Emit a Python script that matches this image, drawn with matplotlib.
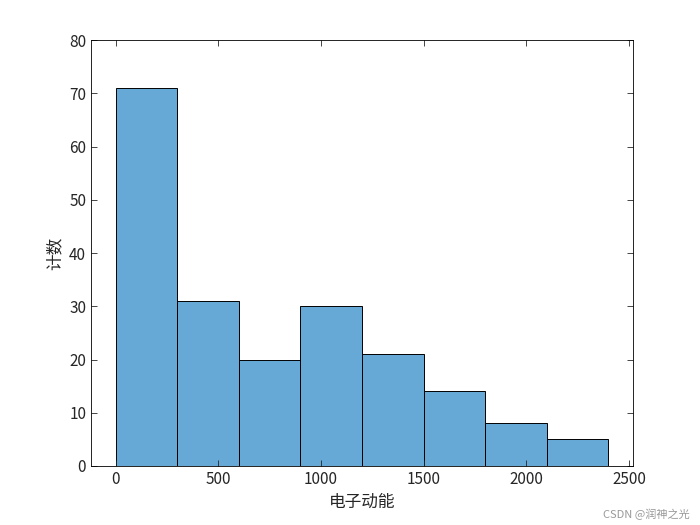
import matplotlib
matplotlib.use("Agg")
import matplotlib.pyplot as plt

plt.rcParams['font.family'] = ['Noto Sans CJK SC', 'DejaVu Sans']

bin_edges = [0, 300, 600, 900, 1200, 1500, 1800, 2100, 2400]
counts = [71, 31, 20, 30, 21, 14, 8, 5]
x_ticks = [0, 500, 1000, 1500, 2000, 2500]
y_ticks = [0, 10, 20, 30, 40, 50, 60, 70, 80]

fig = plt.figure(figsize=(7, 5.25), dpi=100)
ax = fig.add_axes([91 / 700, 1 - 466 / 525, (633 - 91) / 700, (466 - 40) / 525])

lefts = bin_edges[:-1]
widths = [b - a for a, b in zip(bin_edges[:-1], bin_edges[1:])]
ax.bar(lefts, counts, width=widths, align='edge', color='#66a9d6',
       edgecolor='black', linewidth=0.7)

ax.set_xlim(-120, 2520)
ax.set_ylim(0, 80)
ax.set_xticks(x_ticks)
ax.set_yticks(y_ticks)
ax.tick_params(direction='in', top=True, right=True, labelsize=11, length=4,
               width=0.6, colors='#262626')
for s in ax.spines.values():
    s.set_linewidth(0.6)
ax.set_xlabel('电子动能', fontsize=12, color='#262626')
ax.set_ylabel('计数', fontsize=12, color='#262626')

fig.text(0.985, 0.01, 'CSDN @润神之光', ha='right', va='bottom', fontsize=8, color='#999999')

fig.savefig('out.png', dpi=100)
